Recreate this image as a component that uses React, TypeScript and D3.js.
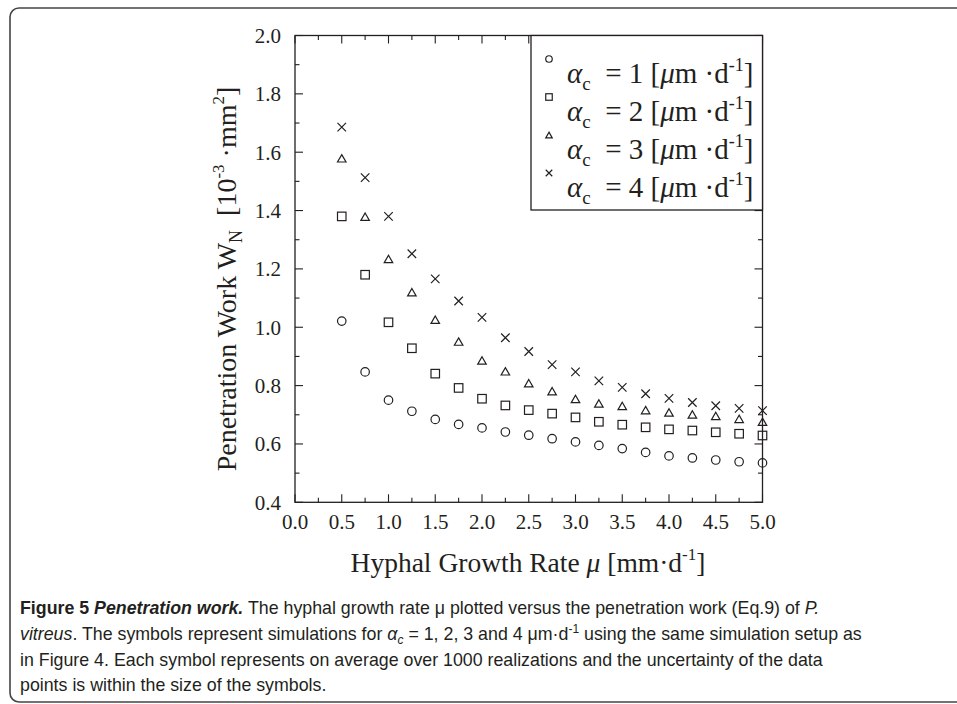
import React from "react";
import * as d3 from "d3";

const muValues = [0.5, 0.75, 1.0, 1.25, 1.5, 1.75, 2.0, 2.25, 2.5, 2.75, 3.0, 3.25, 3.5, 3.75, 4.0, 4.25, 4.5, 4.75, 5.0];
const alpha1 = [1.021, 0.847, 0.750, 0.712, 0.684, 0.667, 0.655, 0.641, 0.630, 0.618, 0.607, 0.595, 0.584, 0.571, 0.559, 0.552, 0.545, 0.539, 0.535];
const alpha2 = [1.380, 1.180, 1.017, 0.928, 0.841, 0.792, 0.755, 0.732, 0.716, 0.704, 0.691, 0.676, 0.666, 0.657, 0.650, 0.646, 0.640, 0.635, 0.629];
const alpha3 = [1.579, 1.379, 1.234, 1.120, 1.026, 0.951, 0.886, 0.849, 0.808, 0.781, 0.754, 0.739, 0.730, 0.716, 0.708, 0.701, 0.696, 0.686, 0.676];
const alpha4 = [1.686, 1.513, 1.380, 1.252, 1.166, 1.090, 1.034, 0.964, 0.917, 0.872, 0.847, 0.816, 0.794, 0.772, 0.756, 0.742, 0.731, 0.722, 0.714];
const seriesNames = ["1", "2", "3", "4"];
const seriesSymbols = ["circle", "square", "triangle", "cross"];
const xTickLabels = ["0.0", "0.5", "1.0", "1.5", "2.0", "2.5", "3.0", "3.5", "4.0", "4.5", "5.0"];
const yTickLabels = ["0.4", "0.6", "0.8", "1.0", "1.2", "1.4", "1.6", "1.8", "2.0"];

const INK = "#231f20";
const SERIF = "'Liberation Serif', 'Times New Roman', serif";
const CAP = "'Liberation Sans', Arial, sans-serif";

function Marker({ kind, x, y, s }: { kind: string; x: number; y: number; s: number }) {
  const h = s / 2;
  if (kind === "circle") return <circle cx={x} cy={y} r={h} fill="none" stroke={INK} strokeWidth={1.2} />;
  if (kind === "square") return <rect x={x - h} y={y - h} width={s} height={s} fill="none" stroke={INK} strokeWidth={1.2} />;
  if (kind === "triangle") {
    const th = s * 0.87;
    return <path d={`M${x},${y - th / 2}L${x + h},${y + th / 2}L${x - h},${y + th / 2}Z`} fill="none" stroke={INK} strokeWidth={1.2} />;
  }
  return <path d={`M${x - h},${y - h}L${x + h},${y + h}M${x - h},${y + h}L${x + h},${y - h}`} fill="none" stroke={INK} strokeWidth={1.2} />;
}

export default function App() {
  const L = 295, R = 762.5, T = 35.5, B = 502.3;
  const x = d3.scaleLinear().domain([0, 5]).range([L, R]);
  const y = d3.scaleLinear().domain([0.4, 2.0]).range([B, T]);
  const series = [alpha1, alpha2, alpha3, alpha4];

  const xMajor = d3.range(0, 5.0001, 0.5);
  const xMinor = d3.range(0.25, 5, 0.5);
  const yMajor = d3.range(0.4, 2.0001, 0.2);
  const yMinor = d3.range(0.5, 2.0, 0.2);
  const MJ = 8, MN = 4.5;

  const legendRows = [83, 121, 159, 197];

  return (
    <svg width={957} height={704} style={{ position: "absolute", left: 0, top: 0, background: "#fff" }}>
      <rect x={10} y={8} width={1000} height={694} rx={9} fill="none" stroke="#444" strokeWidth={1.6} />

      {/* frame */}
      <rect x={L} y={T} width={R - L} height={B - T} fill="none" stroke={INK} strokeWidth={1.3} />
      {xMajor.map((v, i) => (
        <g key={"xm" + i}>
          <line x1={x(v)} x2={x(v)} y1={B} y2={B - MJ} stroke={INK} strokeWidth={1.1} />
          <line x1={x(v)} x2={x(v)} y1={T} y2={T + MJ} stroke={INK} strokeWidth={1.1} />
        </g>
      ))}
      {xMinor.map((v, i) => (
        <g key={"xn" + i}>
          <line x1={x(v)} x2={x(v)} y1={B} y2={B - MN} stroke={INK} strokeWidth={1.1} />
          <line x1={x(v)} x2={x(v)} y1={T} y2={T + MN} stroke={INK} strokeWidth={1.1} />
        </g>
      ))}
      {yMajor.map((v, i) => (
        <g key={"ym" + i}>
          <line x1={L} x2={L + MJ} y1={y(v)} y2={y(v)} stroke={INK} strokeWidth={1.1} />
          <line x1={R} x2={R - MJ} y1={y(v)} y2={y(v)} stroke={INK} strokeWidth={1.1} />
        </g>
      ))}
      {yMinor.map((v, i) => (
        <g key={"yn" + i}>
          <line x1={L} x2={L + MN} y1={y(v)} y2={y(v)} stroke={INK} strokeWidth={1.1} />
          <line x1={R} x2={R - MN} y1={y(v)} y2={y(v)} stroke={INK} strokeWidth={1.1} />
        </g>
      ))}

      {xTickLabels.map((t, i) => (
        <text key={"xl" + i} x={x(+t)} y={529} textAnchor="middle" fontFamily={SERIF} fontSize={21} fill={INK}>{t}</text>
      ))}
      {yTickLabels.map((t, i) => (
        <text key={"yl" + i} x={281} y={y(+t)} dy="0.35em" textAnchor="end" fontFamily={SERIF} fontSize={21} fill={INK}>{t}</text>
      ))}

      {/* axis titles */}
      <text x={528} y={572} textAnchor="middle" fontFamily={SERIF} fontSize={27.5} fill={INK} style={{ whiteSpace: "pre" }}>
        <tspan>Hyphal Growth Rate </tspan>
        <tspan fontStyle="italic">μ</tspan>
        <tspan> [mm·d</tspan>
        <tspan fontSize={17} dy={-12}>-1</tspan>
        <tspan dy={12}>]</tspan>
      </text>
      <text transform="translate(236,279) rotate(-90)" textAnchor="middle" fontFamily={SERIF} fontSize={28} fill={INK} style={{ whiteSpace: "pre" }}>
        <tspan>Penetration Work W</tspan>
        <tspan fontSize={18} dy={6}>N</tspan>
        <tspan dy={-6}>  [10</tspan>
        <tspan fontSize={17} dy={-12}>-3</tspan>
        <tspan dy={12}> ·mm</tspan>
        <tspan fontSize={17} dy={-12}>2</tspan>
        <tspan dy={12}>]</tspan>
      </text>

      {/* data */}
      {series.map((vals, si) =>
        vals.map((v, i) => <Marker key={si + "-" + i} kind={seriesSymbols[si]} x={x(muValues[i])} y={y(v)} s={8.5} />)
      )}

      {/* legend */}
      <rect x={531} y={T} width={R - 531} height={210 - T} fill="#fff" stroke={INK} strokeWidth={1.3} />
      {seriesNames.map((n, i) => (
        <g key={"lg" + i}>
          <Marker kind={seriesSymbols[i]} x={549} y={legendRows[i] - 24} s={6.5} />
          <text x={567} y={legendRows[i]} fontFamily={SERIF} fontSize={29} fill={INK} style={{ whiteSpace: "pre" }}>
            <tspan fontStyle="italic">α</tspan>
            <tspan fontSize={19} dy={7}>c</tspan>
            <tspan dy={-7}>{"  = " + n + " ["}</tspan>
            <tspan fontStyle="italic">μ</tspan>
            <tspan>m ·d</tspan>
            <tspan fontSize={18} dy={-12}>-1</tspan>
            <tspan dy={12}>]</tspan>
          </text>
        </g>
      ))}

      {/* caption */}
      <g fontFamily={CAP} fontSize={17.8} fill="#231f20" style={{ whiteSpace: "pre" }}>
        <text x={20} y={614}>
          <tspan fontWeight="bold">Figure 5 </tspan>
          <tspan fontWeight="bold" fontStyle="italic">Penetration work.</tspan>
          <tspan> The hyphal growth rate μ plotted versus the penetration work (Eq.9) of </tspan>
          <tspan fontStyle="italic">P.</tspan>
        </text>
        <text x={20} y={640}>
          <tspan fontStyle="italic">vitreus</tspan>
          <tspan>. The symbols represent simulations for </tspan>
          <tspan fontStyle="italic">α</tspan>
          <tspan fontStyle="italic" fontSize={12} dy={4}>c</tspan>
          <tspan dy={-4}> = 1, 2, 3 and 4 μm·d</tspan>
          <tspan fontSize={12} dy={-7}>-1</tspan>
          <tspan dy={7}> using the same simulation setup as</tspan>
        </text>
        <text x={20} y={666}>
          in Figure 4. Each symbol represents on average over 1000 realizations and the uncertainty of the data
        </text>
        <text x={20} y={691}>
          points is within the size of the symbols.
        </text>
      </g>
    </svg>
  );
}
